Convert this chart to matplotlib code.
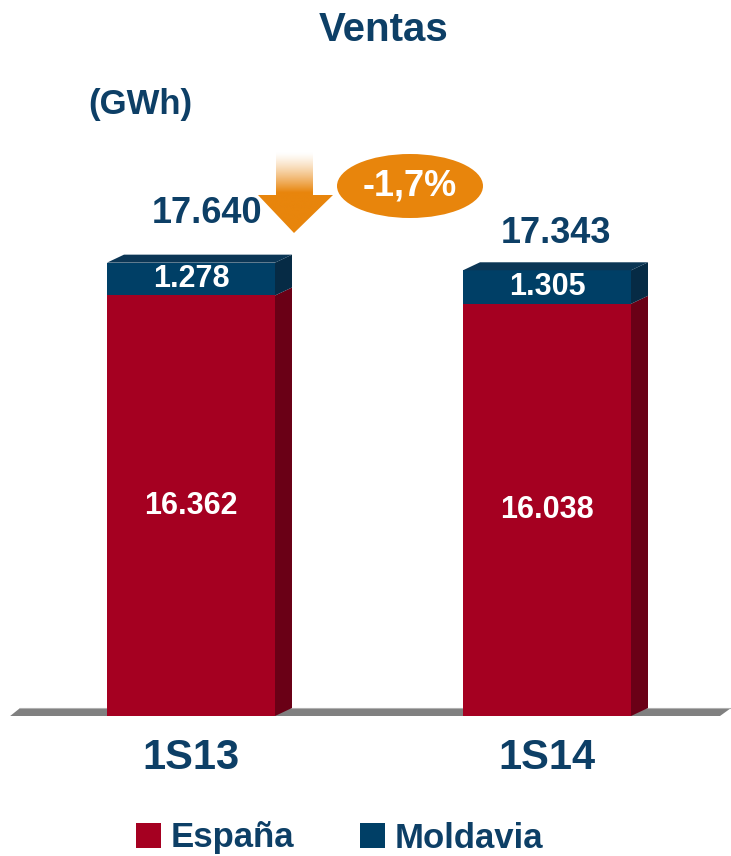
import numpy as np
import matplotlib.pyplot as plt
from matplotlib.patches import Polygon, Ellipse, Patch

plt.rcParams['font.family'] = ['Liberation Sans', 'DejaVu Sans']

periods = ['1S13', '1S14']
espana = [16362, 16038]
moldavia = [1278, 1305]
totals = [17640, 17343]
labels_total = ['17.640', '17.343']
labels_esp = ['16.362', '16.038']
labels_mol = ['1.278', '1.305']
change = '-1,7%'

red = '#A50021'
red_side = '#6A0016'
blue = '#003F66'
blue_side = '#062B45'
blue_top = '#0B3655'
navy = '#0D3F66'
orange = '#E8850C'

fig = plt.figure(figsize=(7.31, 8.56), dpi=100)
ax = fig.add_axes([0, 1 - 716 / 856, 1, 514 / 856])
ax.set_xlim(-191 / 356, (731 - 191) / 356)
ax.set_ylim(0, 20000)
ax.axis('off')

x = np.arange(len(periods))
w = 168 / 356
dx = 17 / 356
dy = 8 * 38.9
# label offsets for the totals (the first one is lifted for the arrow)
tot_dx = [0.045, 0.025]
tot_dy = [1900, 1450]

# floor
floor = Polygon([(-0.508, 0), (1.486, 0), (1.517, dy), (-0.480, dy)],
                closed=True, facecolor='#808080', edgecolor='none', zorder=1)
ax.add_patch(floor)
ax.plot([-0.480, 1.517], [dy, dy], color='#B0B0B0', lw=0.8, zorder=1)

ax.bar(x, espana, w, color=red, zorder=3)
ax.bar(x, moldavia, w, bottom=espana, color=blue, zorder=3)

for i in range(len(x)):
    xl = x[i] - w / 2
    xr = x[i] + w / 2
    segs = [(0, espana[i], red_side), (espana[i], totals[i], blue_side)]
    for y0, y1, c in segs:
        ax.add_patch(Polygon([(xr, y0), (xr + dx, y0 + dy), (xr + dx, y1 + dy), (xr, y1)],
                             closed=True, facecolor=c, edgecolor='none', zorder=2))
    t = totals[i]
    ax.add_patch(Polygon([(xl, t), (xl + dx, t + dy), (xr + dx, t + dy), (xr, t)],
                         closed=True, facecolor=blue_top, edgecolor='none', zorder=3))
    ax.text(x[i], espana[i] / 2, labels_esp[i], color='white', fontsize=22,
            fontweight='bold', ha='center', va='center', zorder=5)
    ax.text(x[i], espana[i] + moldavia[i] / 2, labels_mol[i], color='white', fontsize=22,
            fontweight='bold', ha='center', va='center', zorder=5)
    ax.text(x[i] + tot_dx[i], t + tot_dy[i], labels_total[i], color=navy, fontsize=26,
            fontweight='bold', ha='center', va='center', zorder=5)
    ax.text(x[i], -1650, periods[i], color=navy, fontsize=30,
            fontweight='bold', ha='center', va='center', zorder=5)

# overlay in pixel coordinates for annotations
ov = fig.add_axes([0, 0, 1, 1], zorder=10)
ov.axis('off')
ov.patch.set_alpha(0)

ov.text(384, 30, 'Ventas', color=navy, fontsize=29, fontweight='bold',
        ha='center', va='center')
ov.text(140, 104, '(GWh)', color=navy, fontsize=25, fontweight='bold',
        ha='center', va='center')

# gradient arrow
arrow_pts = [(276, 152), (313, 152), (313, 195), (333, 195), (294, 233),
             (258, 195), (276, 195)]
arrow = Polygon(arrow_pts, closed=True, facecolor='none', edgecolor='none')
ov.add_patch(arrow)
rows = np.linspace(0, 1, 200)
grad = np.clip(rows / 0.5, 0, 1) ** 1.3
c0 = np.array([1, 1, 1])
c1 = np.array([0xE8, 0x85, 0x0C]) / 255
img = (c0[None, :] * (1 - grad[:, None]) + c1[None, :] * grad[:, None])[:, None, :]
img = np.repeat(img, 2, axis=1)
im = ov.imshow(img, extent=(255, 336, 233, 152), aspect='auto', zorder=4)
im.set_clip_path(arrow)
ov.set_xlim(0, 731)
ov.set_ylim(856, 0)

ov.add_patch(Ellipse((410, 186), 146, 64, facecolor=orange, edgecolor='none', zorder=4))
ov.text(410, 186, change, color='white', fontsize=26, fontweight='bold',
        ha='center', va='center', zorder=5)

handles = [Patch(facecolor=red, label='España'), Patch(facecolor=blue, label='Moldavia')]
leg = fig.legend(handles=handles, loc='center', bbox_to_anchor=(0.465, 1 - 838 / 856),
                 ncol=2, frameon=False, handlelength=0.7, handleheight=0.7,
                 handletextpad=0.3, columnspacing=1.9,
                 prop={'size': 25, 'weight': 'bold'})
for t in leg.get_texts():
    t.set_color(navy)

fig.savefig('out.png', dpi=100)
